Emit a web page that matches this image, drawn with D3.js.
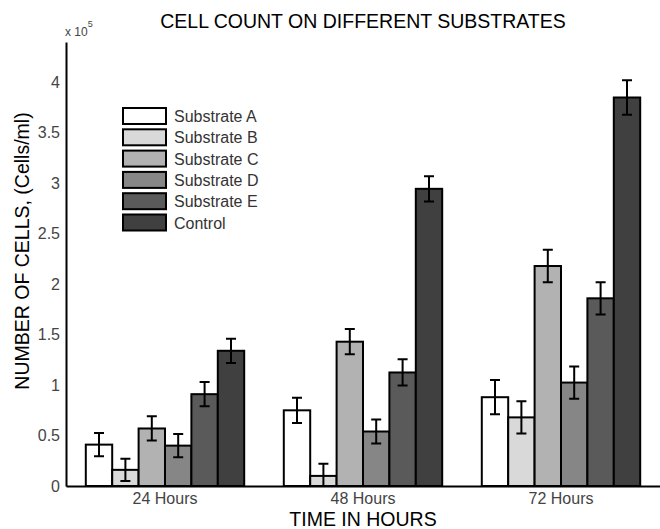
<!DOCTYPE html>
<html>
<head>
<meta charset="utf-8">
<title>Cell count on different substrates</title>
<script src="https://cdn.jsdelivr.net/npm/d3@7"></script>
<style>
  body { margin: 0; background: #fff; }
  svg text { font-family: Arial, "Liberation Sans", sans-serif; }
  .axis path { stroke: #000; stroke-width: 2; }
  .axis text { fill: #444; font-size: 16px; }
</style>
</head>
<body>
<script>
// time points on the x axis
var timePoints = ["24 Hours", "48 Hours", "72 Hours"];
var seriesNames = ["Substrate A", "Substrate B", "Substrate C", "Substrate D", "Substrate E", "Control"];
var seriesColors = ["#ffffff", "#d9d9d9", "#b2b2b2", "#868686", "#5a5a5a", "#404040"];

// mean cell counts (cells/ml) per series, one value per time point
var substrateA = [41000, 75000, 88000];
var substrateB = [16000, 10000, 68000];
var substrateC = [57000, 143000, 218000];
var substrateD = [40000, 54000, 102500];
var substrateE = [91000, 112500, 186000];
var control = [134000, 294500, 385000];

// error bar half-heights
var errA = [11500, 12500, 17000];
var errB = [11000, 12000, 16000];
var errC = [12000, 12500, 16000];
var errD = [11500, 12000, 16000];
var errE = [12000, 13000, 16000];
var errControl = [12000, 12500, 17000];

var yTicks = [0, 50000, 100000, 150000, 200000, 250000, 300000, 350000, 400000];

var means = [substrateA, substrateB, substrateC, substrateD, substrateE, control];
var errs = [errA, errB, errC, errD, errE, errControl];

var width = 660, height = 529;
var plotLeft = 66, plotRight = 660, plotTop = 42, plotBottom = 486;

var svg = d3.select("body").append("svg")
  .attr("width", width)
  .attr("height", height);

var x0 = d3.scaleBand()
  .domain(timePoints)
  .range([plotLeft, plotRight])
  .paddingInner(0)
  .paddingOuter(0);

var x1 = d3.scaleBand()
  .domain(seriesNames)
  .range([0, x0.bandwidth() * 0.8]);

var y = d3.scaleLinear()
  .domain([0, 440000])
  .range([plotBottom, plotTop]);

// flatten into one record per bar
var bars = [];
seriesNames.forEach(function (name, s) {
  timePoints.forEach(function (t, i) {
    bars.push({ name: name, time: t, value: means[s][i], err: errs[s][i], color: seriesColors[s] });
  });
});

function barX(d) {
  return x0(d.time) + x0.bandwidth() * 0.1 + x1(d.name);
}

var barG = svg.append("g");
barG.selectAll("rect")
  .data(bars)
  .enter()
  .append("rect")
  .attr("x", barX)
  .attr("y", function (d) { return y(d.value); })
  .attr("width", x1.bandwidth())
  .attr("height", function (d) { return y(0) - y(d.value); })
  .attr("fill", function (d) { return d.color; })
  .attr("stroke", "#000")
  .attr("stroke-width", 2);

// error bars
var errG = svg.append("g")
  .attr("stroke", "#000")
  .attr("stroke-width", 2)
  .attr("fill", "none");
errG.selectAll("path")
  .data(bars)
  .enter()
  .append("path")
  .attr("d", function (d) {
    var cx = barX(d) + x1.bandwidth() / 2;
    var lo = y(Math.max(0, d.value - d.err)), hi = y(d.value + d.err);
    return "M" + (cx - 5) + "," + hi + "H" + (cx + 5) +
      "M" + cx + "," + hi + "V" + lo +
      "M" + (cx - 5) + "," + lo + "H" + (cx + 5);
  });

// axes
svg.append("g")
  .attr("class", "axis")
  .attr("transform", "translate(0," + plotBottom + ")")
  .call(d3.axisBottom(x0).tickSize(0).tickPadding(7).tickSizeOuter(0));

svg.append("g")
  .attr("class", "axis")
  .attr("transform", "translate(" + plotLeft + ",0)")
  .call(d3.axisLeft(y).tickValues(yTicks).tickSize(0).tickPadding(6).tickSizeOuter(0)
    .tickFormat(function (d) { return String(+(d / 1e5).toFixed(1)); }));

// exponent label
var expo = svg.append("text")
  .attr("x", 65)
  .attr("y", 36)
  .attr("fill", "#444")
  .style("font-size", "12px")
  .text("x 10");
expo.append("tspan")
  .attr("dy", -9)
  .style("font-size", "9px")
  .text("5");

// title and axis labels
svg.append("text")
  .attr("x", (plotLeft + plotRight) / 2)
  .attr("y", 28)
  .attr("text-anchor", "middle")
  .style("font-size", "19.5px")
  .text("CELL COUNT ON DIFFERENT SUBSTRATES");

svg.append("text")
  .attr("x", (plotLeft + plotRight) / 2)
  .attr("y", 526)
  .attr("text-anchor", "middle")
  .style("font-size", "19.5px")
  .text("TIME IN HOURS");

svg.append("text")
  .attr("transform", "translate(29,251) rotate(-90)")
  .attr("text-anchor", "middle")
  .style("font-size", "19.5px")
  .text("NUMBER OF CELLS, (Cells/ml)");

// legend
var legend = svg.append("g")
  .attr("transform", "translate(123,108)");
var items = legend.selectAll("g")
  .data(seriesNames)
  .enter()
  .append("g")
  .attr("transform", function (d, i) { return "translate(0," + (i * 21.3) + ")"; });
items.append("rect")
  .attr("width", 43)
  .attr("height", 16)
  .attr("fill", function (d, i) { return seriesColors[i]; })
  .attr("stroke", "#000")
  .attr("stroke-width", 2);
items.append("text")
  .attr("x", 51)
  .attr("y", 14)
  .attr("fill", "#333")
  .style("font-size", "16px")
  .text(function (d) { return d; });
</script>
</body>
</html>
